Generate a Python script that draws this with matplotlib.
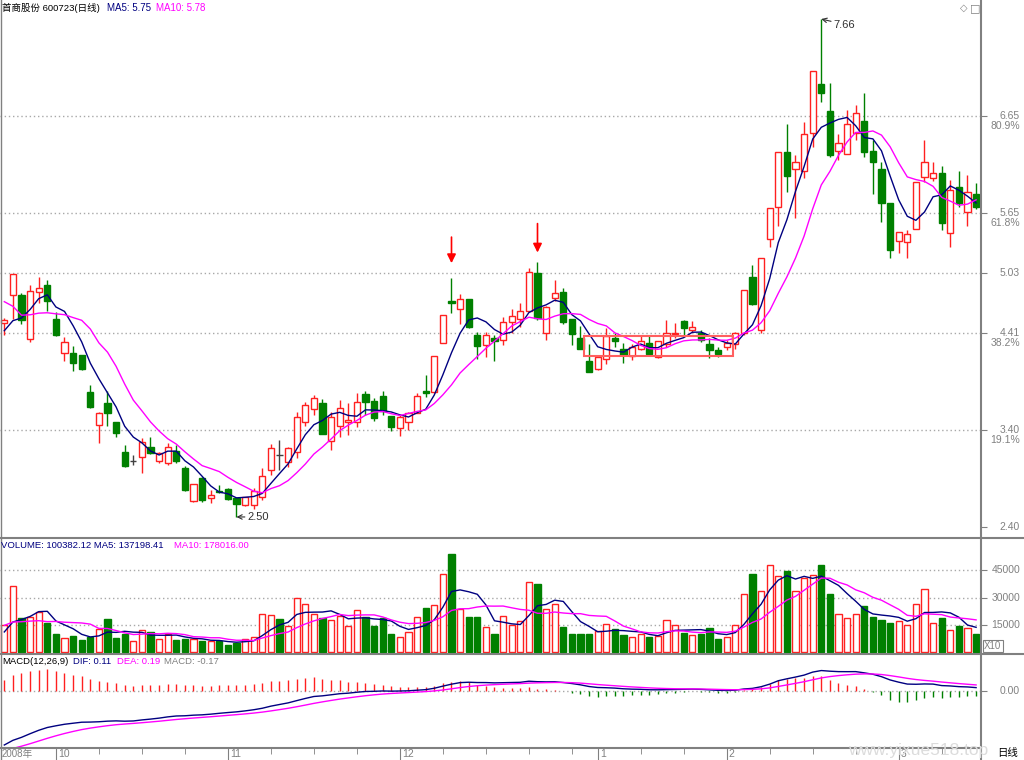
import numpy as np
import pandas as pd
import matplotlib as mpl
mpl.use('Agg')
import matplotlib.pyplot as plt
from matplotlib.patches import Rectangle
from matplotlib.lines import Line2D
from matplotlib.transforms import blended_transform_factory, offset_copy

plt.rcParams['font.family'] = ['Liberation Sans', 'Noto Sans CJK SC', 'DejaVu Sans']

# ---- daily bars, 600723, Sep 2008 - Mar 2009 ----
opens = [4.51, 4.80, 4.80, 4.34, 4.83, 4.90, 4.55, 4.20, 4.20, 4.18,
         3.80, 3.45, 3.68, 3.48, 3.17, 3.08, 3.12, 3.23, 3.08, 3.06,
         3.18, 3.01, 2.67, 2.90, 2.70, 2.77, 2.79, 2.70, 2.62, 2.62,
         2.71, 2.99, 3.145, 3.07, 3.17, 3.48, 3.62, 3.68, 3.29, 3.44,
         3.48, 3.48, 3.77, 3.70, 3.75, 3.55, 3.42, 3.48, 3.58, 3.81,
         3.80, 4.30, 4.74, 4.66, 4.76, 4.39, 4.28, 4.35, 4.33, 4.52,
         4.55, 4.63, 5.03, 4.41, 4.77, 4.83, 4.55, 4.35, 4.12, 4.03,
         4.14, 4.35, 4.24, 4.17, 4.24, 4.30, 4.16, 4.29, 4.40, 4.53,
         4.44, 4.41, 4.29, 4.23, 4.26, 4.29, 4.41, 4.99, 4.44, 5.38,
         5.71, 6.28, 6.11, 6.08, 6.48, 6.99, 6.71, 6.29, 6.26, 6.48,
         6.60, 6.29, 6.11, 5.75, 5.36, 5.35, 5.48, 6.02, 6.01, 6.06,
         5.44, 5.92, 5.66, 5.85]
highs = [4.56, 5.02, 4.82, 4.90, 4.99, 4.96, 4.62, 4.37, 4.27, 4.18,
         3.87, 3.59, 3.81, 3.48, 3.25, 3.14, 3.32, 3.33, 3.17, 3.27,
         3.25, 3.03, 2.84, 2.91, 2.78, 2.83, 2.80, 2.70, 2.71, 2.80,
         3.01, 3.26, 3.30, 3.23, 3.59, 3.69, 3.76, 3.72, 3.59, 3.71,
         3.68, 3.78, 3.81, 3.73, 3.81, 3.55, 3.56, 3.59, 3.78, 3.97,
         4.17, 4.59, 4.98, 4.81, 4.76, 4.42, 4.42, 4.39, 4.57, 4.65,
         4.72, 5.08, 5.14, 4.69, 4.96, 4.87, 4.55, 4.48, 4.29, 4.16,
         4.46, 4.41, 4.30, 4.29, 4.39, 4.39, 4.32, 4.54, 4.51, 4.54,
         4.53, 4.44, 4.35, 4.26, 4.33, 4.42, 4.85, 5.11, 5.18, 5.70,
         6.28, 6.57, 6.25, 6.59, 7.12, 7.66, 7.00, 6.47, 6.72, 6.77,
         6.89, 6.41, 6.18, 5.75, 5.45, 5.47, 5.97, 6.41, 6.18, 6.14,
         5.99, 6.08, 6.04, 5.96]
lows = [4.39, 4.55, 4.50, 4.31, 4.72, 4.63, 4.38, 4.12, 4.01, 4.02,
        3.63, 3.27, 3.44, 3.33, 3.02, 3.04, 2.96, 3.15, 3.06, 3.04,
        3.06, 2.77, 2.66, 2.66, 2.64, 2.75, 2.68, 2.50, 2.61, 2.58,
        2.68, 2.94, 2.99, 3.02, 3.11, 3.44, 3.56, 3.36, 3.19, 3.33,
        3.35, 3.43, 3.56, 3.49, 3.56, 3.39, 3.34, 3.40, 3.58, 3.74,
        3.78, 4.30, 4.61, 4.50, 4.46, 4.14, 4.16, 4.12, 4.28, 4.41,
        4.47, 4.63, 4.54, 4.33, 4.74, 4.50, 4.28, 4.24, 4.00, 4.02,
        4.08, 4.26, 4.10, 4.13, 4.23, 4.17, 4.15, 4.26, 4.35, 4.39,
        4.42, 4.31, 4.15, 4.16, 4.23, 4.24, 4.39, 4.70, 4.41, 5.30,
        5.51, 5.87, 5.60, 6.01, 6.33, 6.80, 6.23, 6.20, 6.26, 6.41,
        6.23, 5.85, 5.56, 5.18, 5.24, 5.18, 5.48, 5.97, 5.98, 5.47,
        5.30, 5.71, 5.51, 5.69]
closes = [4.54, 5.02, 4.54, 4.84, 4.87, 4.74, 4.39, 4.31, 4.10, 4.03,
          3.64, 3.58, 3.58, 3.37, 3.03, 3.08, 3.28, 3.16, 3.16, 3.23,
          3.08, 2.78, 2.84, 2.68, 2.73, 2.76, 2.69, 2.63, 2.71, 2.77,
          2.92, 3.21, 3.14, 3.21, 3.54, 3.66, 3.73, 3.36, 3.54, 3.63,
          3.50, 3.69, 3.69, 3.53, 3.60, 3.43, 3.54, 3.58, 3.75, 3.78,
          4.17, 4.59, 4.72, 4.76, 4.47, 4.27, 4.39, 4.32, 4.52, 4.58,
          4.63, 5.04, 4.56, 4.68, 4.82, 4.52, 4.40, 4.24, 4.00, 4.16,
          4.38, 4.32, 4.18, 4.26, 4.32, 4.19, 4.32, 4.41, 4.41, 4.46,
          4.47, 4.33, 4.23, 4.19, 4.30, 4.41, 4.85, 4.71, 5.18, 5.70,
          6.28, 6.03, 6.18, 6.47, 7.12, 6.89, 6.25, 6.37, 6.57, 6.69,
          6.28, 6.18, 5.75, 5.27, 5.45, 5.43, 5.97, 6.18, 6.06, 5.55,
          5.89, 5.75, 5.87, 5.71]
# volume in units of 10 shares (axis shows X10)
volumes = [15000, 36300, 18600, 19500, 22200, 15900, 9900, 7800, 9000, 6900,
           8700, 12800, 18300, 8100, 9900, 6300, 12300, 11000, 7400, 9900,
           6900, 7200, 7200, 6000, 6000, 6300, 4200, 5400, 7400, 8300,
           20800, 20400, 18300, 14500, 29800, 26600, 21000, 18600, 17700, 20100,
           14500, 23000, 19500, 14500, 18600, 10300, 8500, 11000, 19300, 24400,
           26200, 43000, 53800, 23700, 19300, 19300, 13900, 10300, 19900, 14800,
           17300, 38500, 37200, 23500, 26400, 13900, 10300, 10300, 10300, 11700,
           15400, 12800, 9400, 8300, 10100, 8700, 9200, 17500, 14800, 10800,
           9400, 9900, 13400, 7600, 8500, 14800, 32200, 42800, 33600, 47700,
           41600, 44300, 33600, 41000, 42100, 47700, 31800, 20800, 18600, 21100,
           25300, 19500, 17700, 16100, 17300, 14800, 26400, 34600, 16300, 18700,
           12100, 14600, 13200, 10038]

# bars before the visible window (needed by the moving averages / MACD)
pre_closes = [5.50, 5.46, 4.80, 4.70, 4.70, 4.50, 4.40, 4.40, 4.31]
pre_volumes = [18000, 17000, 16000, 20000, 21000, 9000, 12000, 11000, 9000]
ema12_start, ema26_start, dea_start = 4.80, 6.60, -1.90

month_idx = [6, 26, 46, 69, 84, 104]
month_labels = ['10', '11', '12', '1', '2', '3']
week_idx = [11, 16, 21, 31, 36, 41, 51, 56, 61, 66, 74, 79, 89, 94, 99, 109]

price_ticks = [6.65, 5.65, 5.03, 4.41, 3.40, 2.40]
price_tick_txt = ['6.65', '5.65', '5.03', '4.41', '3.40', '2.40']
price_tick_pct = ['80.9%', '61.8%', '', '38.2%', '19.1%', '']
vol_ticks = [15000, 30000, 45000]

signal_idx = [52, 62]
signal_tail = [5.40, 5.54]
signal_head = [5.13, 5.24]
box_x0, box_x1, box_lo, box_hi = 67.4, 84.7, 4.17, 4.38

RED = '#FF2020'
GREEN = '#008000'
NAVY = '#000080'
MAG = '#FF00FF'
GRAY = '#808080'
W, H = 1024, 760

o = np.array(opens); h = np.array(highs); l = np.array(lows); c = np.array(closes)
v = np.array(volumes, dtype=float)
x = np.arange(len(c))
up = c >= o
doji = np.abs(c - o) < 0.006

ma5 = pd.Series(pre_closes + closes).rolling(5).mean().values[len(pre_closes):]
ma10 = pd.Series(pre_closes + closes).rolling(10).mean().values[len(pre_closes):]
vma5 = pd.Series(pre_volumes + volumes).rolling(5).mean().values[len(pre_volumes):]
vma10 = pd.Series(pre_volumes + volumes).rolling(10).mean().values[len(pre_volumes):]

e12, e26, dv = ema12_start, ema26_start, dea_start
dif, dea = [], []
for cl in closes:
    e12 += (cl - e12) * 2 / 13
    e26 += (cl - e26) * 2 / 27
    d = e12 - e26
    dv += (d - dv) * 2 / 10
    dif.append(d)
    dea.append(dv)
dif = np.array(dif); dea = np.array(dea)
macd = 2 * (dif - dea)

fig = plt.figure(figsize=(W / 100, H / 100), dpi=100)
fig.patch.set_facecolor('white')


def px_ax(top, bottom):
    return fig.add_axes([0, 1 - bottom / H, 981 / W, (bottom - top) / H])


ax1 = px_ax(0, 538)
ax2 = px_ax(538, 654)
ax3 = px_ax(654, 748)
for ax in (ax1, ax2, ax3):
    ax.set_xlim(-0.5, 113.57)
    for s in ax.spines.values():
        s.set_visible(False)
    ax.set_facecolor('none')
    ax.yaxis.tick_right()
    ax.tick_params(axis='y', length=4, color=GRAY, labelright=False)
    ax.tick_params(axis='x', bottom=False, labelbottom=False)

dot = dict(color='#A8A8A8', lw=1, linestyle=(0, (1, 2)))

# ---- price panel ----
ax1.set_ylim(2.282, 7.857)
ax1.set_yticks(price_ticks)
for t in price_ticks[:-1]:
    ax1.axhline(t, **dot, zorder=0)
tr = blended_transform_factory(fig.transFigure, ax1.transData)
for t, s, p in zip(price_ticks, price_tick_txt, price_tick_pct):
    ax1.text(1020 / W, t, s, transform=tr, ha='right', va='center', fontsize=7.5, color=GRAY)
    if p:
        ax1.text(1020 / W, t, p, transform=offset_copy(tr, fig=fig, y=-10, units='dots'),
                 ha='right', va='center', fontsize=7.5, color=GRAY)

body_lo = np.minimum(o, c)
body_hi = np.maximum(o, c)
m = up & ~doji
ax1.vlines(x[m], l[m], body_lo[m], color=RED, lw=1)
ax1.vlines(x[m], body_hi[m], h[m], color=RED, lw=1)
ax1.bar(x[m], body_hi[m] - body_lo[m], bottom=body_lo[m], width=0.7,
        facecolor='white', edgecolor=RED, lw=1, zorder=3)
m = ~up & ~doji
ax1.vlines(x[m], l[m], h[m], color=GREEN, lw=1)
ax1.bar(x[m], body_hi[m] - body_lo[m], bottom=body_lo[m], width=0.7,
        color=GREEN, edgecolor=GREEN, lw=1, zorder=3)
ax1.vlines(x[doji], l[doji], h[doji], color='#404040', lw=1)
ax1.hlines(c[doji], x[doji] - 0.35, x[doji] + 0.35, color='#404040', lw=1)

ax1.plot(x, ma5, color=NAVY, lw=1, zorder=4)
ax1.plot(x, ma10, color=MAG, lw=1, zorder=4)

ax1.add_patch(Rectangle((box_x0, box_lo), box_x1 - box_x0, box_hi - box_lo,
                        fill=False, edgecolor='#FF6060', lw=1.5, zorder=5))

for i, t0, t1 in zip(signal_idx, signal_tail, signal_head):
    ax1.annotate('', xy=(i, t1), xytext=(i, t0),
                 arrowprops=dict(arrowstyle='-|>', color='red', lw=1.2, mutation_scale=13,
                                 shrinkA=0, shrinkB=0))

ilo = int(np.argmin(l)); ihi = int(np.argmax(h))
ax1.annotate('%.2f' % l[ilo], xy=(ilo, l[ilo]), xytext=(8, 0), textcoords='offset points',
             va='center', ha='left', fontsize=8, color='#303030',
             arrowprops=dict(arrowstyle='->', color='#303030', lw=0.8, shrinkA=0, shrinkB=0))
ax1.annotate('%.2f' % h[ihi], xy=(ihi, h[ihi]), xytext=(9, -4), textcoords='offset points',
             va='center', ha='left', fontsize=8, color='#303030',
             arrowprops=dict(arrowstyle='->', color='#303030', lw=0.8, shrinkA=0, shrinkB=0))

# ---- volume panel ----
ax2.set_ylim(-876, 62628)
ax2.set_yticks(vol_ticks)
for t in vol_ticks:
    ax2.axhline(t, **dot, zorder=0)
tr2 = blended_transform_factory(fig.transFigure, ax2.transData)
for t in vol_ticks:
    ax2.text(1020 / W, t, str(t), transform=tr2, ha='right', va='center', fontsize=7.5, color=GRAY)
ax2.bar(x[up], v[up], width=0.7, facecolor='white', edgecolor=RED, lw=1, zorder=3)
ax2.bar(x[~up], v[~up], width=0.7, color=GREEN, edgecolor=GREEN, lw=1, zorder=3)
ax2.plot(x, vma5, color=NAVY, lw=1, zorder=4)
ax2.plot(x, vma10, color=MAG, lw=1, zorder=4)

# ---- MACD panel ----
ax3.set_ylim(-57 / 32, 37 / 32)
ax3.set_yticks([0])
ax3.axhline(0, **dot, zorder=0)
tr3 = blended_transform_factory(fig.transFigure, ax3.transData)
ax3.text(1020 / W, 0, '0.00', transform=tr3, ha='right', va='center', fontsize=7.5, color=GRAY)
pos = macd >= 0
ax3.vlines(x[pos], 0, macd[pos], color=RED, lw=1)
ax3.vlines(x[~pos], 0, macd[~pos], color=GREEN, lw=1)
ax3.plot(x, dif, color=NAVY, lw=1)
ax3.plot(x, dea, color=MAG, lw=1)

ax3.set_xticks(month_idx)
ax3.set_xticks(week_idx, minor=True)
ax3.tick_params(axis='x', which='major', bottom=True, length=12, color=GRAY, labelbottom=False)
ax3.tick_params(axis='x', which='minor', bottom=True, length=4, color=GRAY)
trx = blended_transform_factory(ax3.transData, fig.transFigure)
for i, s in zip(month_idx, month_labels):
    ax3.text(i + 0.25, 1 - 754 / H, s, transform=trx, ha='left', va='center',
             fontsize=7.5, color=GRAY)


# ---- frame lines ----
def fline(x0, y0, x1, y1, lw=1.5):
    fig.add_artist(Line2D([x0 / W, x1 / W], [1 - y0 / H, 1 - y1 / H],
                          color=GRAY, lw=lw, transform=fig.transFigure))


fline(0, 538, W, 538)
fline(0, 654, W, 654)
fline(0, 748, 981, 748)
fline(981, 0, 981, H)
fline(0.5, 0, 0.5, H, lw=1)


# ---- header texts ----
def ftext(px, py, s, color, size=7, **kw):
    fig.text(px / W, 1 - py / H, s, color=color, fontsize=size, va='center', ha='left', **kw)


ftext(2, 8, '首商股份 600723(日线)', 'black', size=6.8)
ftext(107, 8, 'MA5: 5.75', NAVY)
ftext(156, 8, 'MA10: 5.78', MAG)
ftext(1, 545, 'VOLUME: 100382.12 MA5: 137198.41', NAVY, size=6.8)
ftext(174, 545, 'MA10: 178016.00', MAG, size=6.8)
ftext(2, 662, 'MACD(12,26,9)', 'black', size=6.8)
ftext(73, 662, 'DIF: 0.11', NAVY, size=6.8)
ftext(117, 662, 'DEA: 0.19', MAG, size=6.8)
ftext(164, 662, 'MACD: -0.17', GRAY, size=6.8)
ftext(960, 8, '◇', GRAY, size=7, family='DejaVu Sans')
ftext(970, 8, '□', GRAY, size=8, family='DejaVu Sans')
ftext(984, 646, 'X10', GRAY, size=7,
      bbox=dict(boxstyle='square,pad=0.15', fc='white', ec=GRAY, lw=0.8))
ftext(2, 754, '2008年', GRAY)
ftext(848, 751, 'www.yixue518.top', '#DCDCDC', size=12.5)
ftext(997, 753, '日线', 'black', size=7.5)

fig.savefig('out.png', dpi=100, facecolor='white')
